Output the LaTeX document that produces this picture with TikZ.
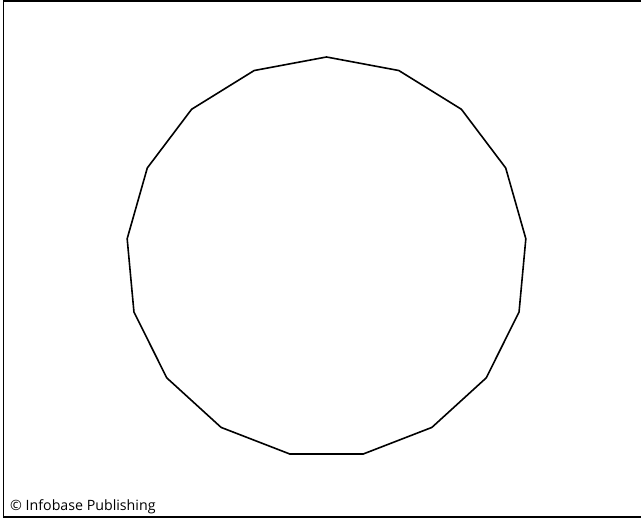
\documentclass[tikz,border=0pt]{standalone}
\usepackage{fontspec}
\setmainfont{Open Sans}
\usetikzlibrary{calc}
\begin{document}
\begin{tikzpicture}[x=1pt,y=-1pt,line join=miter]
\useasboundingbox (0,0) rectangle (641,518);
\draw[line width=1.2pt] (3.5,518) -- (3.5,1) -- (641,1);
\draw[line width=1.2pt] (3.5,517) -- (641,517);
\coordinate (c) at (326.5,257.2);
\draw[line width=1.6pt] ($(c)+(-90:200.2)$)
  \foreach \k in {1,...,16} { -- ($(c)+({-90+\k*360/17}:200.2)$) } -- cycle;
\node[anchor=base west,inner sep=0pt,font=\fontsize{14.2}{16}\selectfont] (credit) at (10,511) {© Infobase Publishing};
\end{tikzpicture}
\end{document}
